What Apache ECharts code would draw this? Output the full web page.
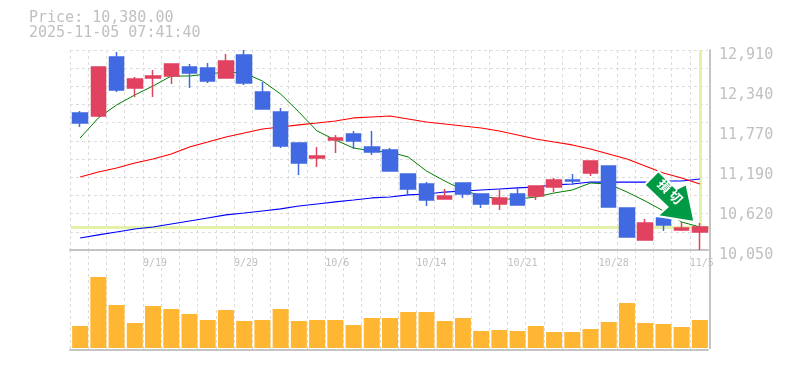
<!DOCTYPE html>
<html>
<head>
<meta charset="utf-8">
<style>
  html, body { margin: 0; padding: 0; background: #fff; }
  #chart { width: 785px; height: 370px; }
</style>
<script src="https://cdn.jsdelivr.net/npm/echarts@6/dist/echarts.min.js"></script>
</head>
<body>
<div id="chart"></div>
<script>
const categories = ["9/12","9/16","9/17","9/18","9/19","9/22","9/24","9/25","9/26","9/29","9/30","10/1","10/2","10/3","10/6","10/7","10/8","10/9","10/10","10/14","10/15","10/16","10/17","10/20","10/21","10/22","10/23","10/24","10/27","10/28","10/29","10/30","10/31","11/4","11/5"];

// open, close, low, high
const candles = [
  [12009,11866,11809,12038],[11966,12667,11952,12667],[12810,12338,12309,12881],[12367,12495,12238,12524],
  [12510,12538,12238,12624],[12538,12710,12424,12710],[12667,12581,12367,12710],[12653,12467,12438,12724],
  [12510,12753,12510,12853],[12839,12438,12410,12910],[12309,12066,12066,12452],[12023,11537,11509,12081],
  [11580,11294,11123,11580],[11366,11394,11237,11523],[11623,11652,11437,11695],[11709,11609,11494,11752],
  [11523,11451,11409,11752],[11480,11180,11180,11509],[11137,10922,10837,11137],[10994,10765,10679,11022],
  [10779,10822,10779,10922],[11008,10851,10794,11008],[10851,10708,10651,10851],[10708,10794,10622,10922],
  [10851,10694,10694,10937],[10822,10965,10765,10965],[10951,11051,10879,11080],[11051,11037,10980,11137],
  [11151,11323,11108,11323],[11251,10665,10665,11251],[10651,10236,10236,10651],[10193,10436,10193,10493],
  [10508,10408,10322,10508],[10336,10365,10322,10450],[10307,10380,10050,10436]
];

const maShort = [11652,11938,12124,12267,12395,12538,12538,12567,12595,12581,12467,12281,12023,11752,11623,11509,11466,11451,11380,11180,11037,10908,10822,10779,10779,10808,10865,10908,11008,10994,10879,10751,10608,10450,10379];
const maMid = [11094,11165,11223,11294,11351,11423,11523,11594,11666,11723,11780,11809,11838,11866,11895,11938,11952,11966,11923,11880,11852,11823,11795,11752,11695,11637,11594,11552,11494,11423,11351,11251,11151,11080,10994];
const maLong = [10222,10265,10307,10350,10379,10422,10465,10508,10551,10579,10608,10637,10679,10708,10737,10765,10794,10808,10837,10851,10879,10894,10908,10922,10937,10951,10980,10994,11022,11022,11022,11022,11037,11037,11065];

const volumes = [22000,71000,43000,25000,42000,39000,34000,28000,38000,27000,28000,39000,27000,28000,28000,23000,30000,30000,36000,36000,27000,30000,17000,18000,17000,22000,16000,16000,19000,26000,45000,25000,24000,21000,28000];

const lastPrice = 10380;
const lastLabel = "11/5";
const priceMin = 10050;
const priceMax = 12910;
const priceStep = 572;

const textColor = "#c0c0c0";
const gridColor = "#dcdcdc";
const frameColor = "#c4c4c4";
const monoFont = "DejaVu Sans Mono";
const hiliteColor = "#e2f2a8";

const arrowPath = "path://M14 0L0 14L23 36L13 45L50 51L42 13L32 18Z";

const hiddenCat = (gridIndex) => ({
  type: "category",
  gridIndex,
  data: categories,
  axisLine: { show: false },
  axisTick: { show: false },
  axisLabel: { show: false },
  splitLine: { show: false },
});

const guideCat = (gridIndex, withLabels) => ({
  type: "category",
  gridIndex,
  boundaryGap: false,
  data: [...categories, ""],
  axisLine: { show: true, onZero: false, lineStyle: { color: frameColor, width: 2 } },
  axisTick: { show: false },
  axisLabel: {
    show: withLabels,
    interval: (i) => i % 5 === 4 && i < categories.length,
    align: "left",
    margin: 8,
    color: textColor,
    fontFamily: monoFont,
    fontSize: 10,
  },
  splitLine: {
    show: true,
    interval: (i) => i < categories.length,
    lineStyle: { color: gridColor, type: [3, 3], width: 1 },
  },
});

const chart = echarts.init(document.getElementById("chart"));

chart.setOption({
  animation: false,
  backgroundColor: "#fff",
  title: {
    text: "Price: 10,380.00\n2025-11-05 07:41:40",
    left: 29,
    top: 11,
    padding: 0,
    textStyle: {
      color: textColor,
      fontFamily: monoFont,
      fontSize: 15,
      fontWeight: "normal",
      lineHeight: 15,
    },
  },
  grid: [
    { left: 71, top: 50, width: 638, height: 200 },
    { left: 71, top: 250, width: 638, height: 98 },
    { left: 70, top: 50, width: 638, height: 200 },
    { left: 70, top: 250, width: 638, height: 100 },
  ],
  xAxis: [hiddenCat(0), hiddenCat(1), guideCat(2, true), guideCat(3, false)],
  yAxis: [
    {
      type: "value",
      gridIndex: 0,
      position: "right",
      offset: 1,
      min: priceMin,
      max: priceMax,
      interval: priceStep,
      axisLine: { show: true, lineStyle: { color: frameColor, width: 2 } },
      axisTick: { show: false },
      splitLine: { show: false },
      axisLabel: {
        margin: 9,
        verticalAlign: "top",
        lineHeight: 10,
        color: textColor,
        fontFamily: monoFont,
        fontSize: 15,
        formatter: (v) => (Math.round(v / 10) * 10).toLocaleString("en-US"),
      },
    },
    {
      type: "value",
      gridIndex: 1,
      position: "right",
      offset: 1,
      min: 0,
      max: 98000,
      axisLine: { show: true, lineStyle: { color: frameColor, width: 2 } },
      axisTick: { show: false },
      axisLabel: { show: false },
      splitLine: { show: false },
    },
    {
      type: "value",
      gridIndex: 2,
      min: 0,
      max: 11,
      interval: 1,
      axisLine: { show: false },
      axisTick: { show: false },
      axisLabel: { show: false },
      splitLine: { show: true, lineStyle: { color: gridColor, type: [3, 3], width: 1 } },
    },
    {
      type: "value",
      gridIndex: 3,
      axisLine: { show: false },
      axisTick: { show: false },
      axisLabel: { show: false },
      splitLine: { show: false },
    },
  ],
  series: [
    {
      name: "MA long",
      type: "line",
      xAxisIndex: 0,
      yAxisIndex: 0,
      data: maLong,
      showSymbol: false,
      z: 3,
      lineStyle: { color: "#0000ff", width: 1.2 },
      markLine: {
        silent: true,
        symbol: "none",
        label: { show: false },
        z: 2,
        lineStyle: { color: hiliteColor, width: 3, type: "solid" },
        data: [
          { yAxis: lastPrice },
          [
            { coord: [lastLabel, priceMax] },
            { coord: [lastLabel, lastPrice] },
          ],
        ],
      },
    },
    {
      name: "MA mid",
      type: "line",
      xAxisIndex: 0,
      yAxisIndex: 0,
      data: maMid,
      showSymbol: false,
      z: 3,
      lineStyle: { color: "#ff0000", width: 1.2 },
    },
    {
      name: "MA short",
      type: "line",
      xAxisIndex: 0,
      yAxisIndex: 0,
      data: maShort,
      showSymbol: false,
      z: 3,
      lineStyle: { color: "#008000", width: 1 },
    },
    {
      name: "Price",
      type: "candlestick",
      xAxisIndex: 0,
      yAxisIndex: 0,
      data: candles,
      barWidth: 15,
      z: 4,
      itemStyle: {
        color: "#e0425f",
        color0: "#4169e1",
        borderColor: "#e0425f",
        borderColor0: "#4169e1",
        borderColorDoji: "#4169e1",
        borderWidth: 1.5,
      },
      markPoint: {
        silent: true,
        z: 6,
        data: [
          {
            coord: ["10/31", 10815],
            symbol: arrowPath,
            symbolSize: [50, 51],
            symbolOffset: [6, 0],
            itemStyle: { color: "#009a44", borderColor: "#fff", borderWidth: 2 },
            label: {
              show: true,
              position: "inside",
              formatter: "損 切",
              rotate: -45,
              offset: [-3, -4],
              color: "#fff",
              fontFamily: "Noto Sans CJK JP",
              fontSize: 13,
              fontWeight: "bold",
            },
          },
        ],
      },
    },
    {
      name: "Volume",
      type: "bar",
      xAxisIndex: 1,
      yAxisIndex: 1,
      data: volumes,
      barWidth: 16,
      itemStyle: { color: "#ffb733" },
    },
  ],
});
</script>
</body>
</html>
